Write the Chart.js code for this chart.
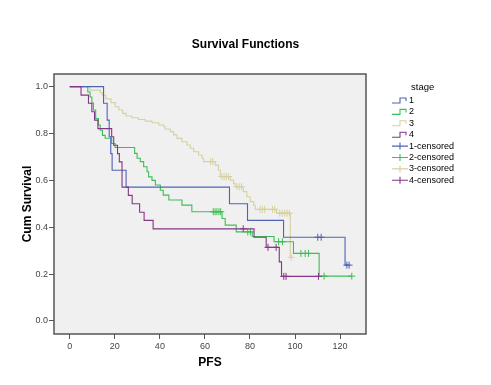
<!DOCTYPE html>
<html>
<head>
<meta charset="utf-8">
<script src="https://cdn.jsdelivr.net/npm/chart.js@4"></script>
<style>
  html, body { margin: 0; padding: 0; background: #fff; }
</style>
</head>
<body>
<canvas id="km" width="491" height="385"></canvas>
<script>
// Kaplan-Meier steps: time (PFS) and cumulative survival
const s1Time = [0, 15, 16.6, 17.5, 18.2, 18.8, 25, 70.9, 78.9, 94.9, 122.2, 124];
const s1Surv = [1, 0.929, 0.857, 0.786, 0.714, 0.643, 0.571, 0.5, 0.429, 0.357, 0.238, 0.238];
const s1Cens = [110.1, 111.6, 123, 124];

const s2Time = [0, 8, 9, 9.8, 10.5, 11.5, 12.7, 13.5, 14.5, 15.7, 18.6, 20.1, 28.8, 29.9, 31.3, 32.8, 34.3, 35, 36.5, 38,
  40.2, 41.5, 44, 49.8, 54.2, 67.6, 69, 73.9, 81, 90.7, 99.3, 110.7, 125.2];
const s2Surv = [1, 0.977, 0.956, 0.93, 0.9, 0.864, 0.836, 0.814, 0.792, 0.78, 0.757, 0.74, 0.715, 0.694, 0.68, 0.658, 0.637, 0.615, 0.6, 0.58,
  0.558, 0.537, 0.516, 0.494, 0.466, 0.437, 0.409, 0.38, 0.36, 0.338, 0.288, 0.191, 0.191];
const s2Cens = [63.7, 64.5, 65.3, 66.2, 67, 79, 80.2, 92.7, 94.4, 102.6, 104.5, 106, 112.9, 125.2];

const s3Time = [0, 9, 13.5, 14.4, 16, 18.3, 20.2, 21.8, 23.5, 25, 27.5, 30.5, 33.5, 36.5, 39.5, 41.7, 42.4, 44.6, 46.1, 47.6,
  49.8, 52, 53.5, 55, 57.2, 58.7, 59.4, 64.6, 66, 66.8, 71.2, 72.7, 73.4, 77, 78.6, 80.1, 81.6, 82.3, 91.8, 97.9, 98.3];
const s3Surv = [1, 0.985, 0.975, 0.963, 0.948, 0.932, 0.914, 0.9, 0.886, 0.875, 0.867, 0.86, 0.853, 0.846, 0.836, 0.829, 0.819, 0.808, 0.794, 0.779,
  0.765, 0.751, 0.737, 0.722, 0.708, 0.694, 0.68, 0.665, 0.644, 0.616, 0.601, 0.587, 0.573, 0.552, 0.53, 0.509, 0.494, 0.476, 0.46, 0.271, 0.271];
const s3Cens = [62.5, 63.5, 67.5, 68.5, 69.5, 70.5, 74.2, 75.2, 76.2, 84.5, 85.5, 86.5, 90, 91, 93.2, 94.3, 95.4, 96.5, 97.5, 98.3];

const s4Time = [0, 5, 8.3, 9.8, 11, 12.5, 18.6, 19.5, 21.2, 22, 23.2, 26, 27.7, 31, 33, 37, 81.8, 87.2, 93, 94, 110.4];
const s4Surv = [1, 0.964, 0.929, 0.893, 0.857, 0.821, 0.786, 0.75, 0.714, 0.679, 0.571, 0.536, 0.5, 0.464, 0.429, 0.393, 0.357, 0.314, 0.252, 0.19, 0.19];
const s4Cens = [77, 88, 91.6, 95, 96, 110.4];

const stageLabels = ["1", "2", "3", "4"];
const xTicks = [0, 20, 40, 60, 80, 100, 120];
const yTicks = [0, 0.2, 0.4, 0.6, 0.8, 1.0];

const colors = ["#4D64B4", "#3DBE55", "#D6D1A0", "#853586"];
const drawOrder = [1, 2, 3, 0]; // stage 4 on top
const FONT = "'Liberation Sans', Arial, sans-serif";

const curves = [
  [s1Time, s1Surv, s1Cens],
  [s2Time, s2Surv, s2Cens],
  [s3Time, s3Surv, s3Cens],
  [s4Time, s4Surv, s4Cens]
];

// survival value of a step curve at time t (censor marks sit on the curve)
function survAt(times, surv, t) {
  let v = surv[0];
  for (let i = 0; i < times.length; i++) {
    if (times[i] <= t) v = surv[i];
  }
  return v;
}

const datasets = [];
curves.forEach(([t, s, c], i) => {
  datasets.push({
    label: stageLabels[i],
    data: t.map((x, k) => ({ x: x, y: s[k] })),
    borderColor: colors[i],
    borderWidth: 1.1,
    pointRadius: 0,
    stepped: "before",
    fill: false,
    order: drawOrder[i]
  });
});
curves.forEach(([t, s, c], i) => {
  datasets.push({
    label: stageLabels[i] + "-censored",
    data: c.map(x => ({ x: x, y: survAt(t, s, x) })),
    showLine: false,
    pointStyle: "cross",
    pointRadius: 3.5,
    pointBorderWidth: 1,
    borderColor: colors[i],
    backgroundColor: colors[i],
    order: drawOrder[i]
  });
});

// grey plot background and frame
const framePlugin = {
  id: "frame",
  beforeDatasetsDraw(chart) {
    const { ctx, chartArea: a } = chart;
    ctx.save();
    ctx.fillStyle = "#F0F0F0";
    ctx.fillRect(a.left, a.top, a.right - a.left, a.bottom - a.top);
    ctx.restore();
  },
  afterDraw(chart) {
    const { ctx, chartArea: a } = chart;
    ctx.save();
    ctx.strokeStyle = "#555";
    ctx.lineWidth = 1.5;
    ctx.strokeRect(a.left, a.top, a.right - a.left, a.bottom - a.top);
    ctx.restore();
  }
};

// SPSS-style legend on the right
const legendPlugin = {
  id: "kmLegend",
  afterDraw(chart) {
    const ctx = chart.ctx;
    ctx.save();
    ctx.fillStyle = "#000";
    ctx.textBaseline = "middle";
    ctx.textAlign = "left";
    ctx.font = "9.5px " + FONT;
    ctx.fillText("stage", 411, 87);
    ctx.font = "9px " + FONT;
    const x0 = 392, step = 11.4;
    chart.data.datasets.forEach((ds, i) => {
      const y = 100.5 + i * step;
      ctx.strokeStyle = ds.borderColor;
      ctx.lineWidth = 1.1;
      ctx.beginPath();
      if (i < 4) {
        ctx.moveTo(x0, y + 2.5);
        ctx.lineTo(x0 + 8, y + 2.5);
        ctx.lineTo(x0 + 8, y - 2.5);
        ctx.lineTo(x0 + 14, y - 2.5);
        ctx.lineTo(x0 + 14, y + 0.5);
      } else {
        ctx.moveTo(x0, y);
        ctx.lineTo(x0 + 16, y);
        ctx.moveTo(x0 + 8, y - 3.5);
        ctx.lineTo(x0 + 8, y + 3.5);
      }
      ctx.stroke();
      ctx.fillText(ds.label, 409, y);
    });
    ctx.restore();
  }
};

new Chart(document.getElementById("km"), {
  type: "line",
  data: { datasets: datasets },
  options: {
    responsive: false,
    animation: false,
    devicePixelRatio: 1,
    layout: { padding: 0 },
    plugins: {
      legend: { display: false },
      tooltip: { enabled: false },
      title: {
        display: true,
        text: "Survival Functions",
        color: "#000",
        font: { family: FONT, size: 12, weight: "bold", lineHeight: 1.25 },
        padding: { top: 37, bottom: 22 }
      }
    },
    scales: {
      x: {
        type: "linear",
        min: -7,
        max: 131.5,
        afterFit(s) { s.height = 51; },
        afterBuildTicks(s) { s.ticks = xTicks.map(v => ({ value: v })); },
        grid: { drawOnChartArea: false, drawTicks: true, tickLength: 5, tickColor: "#555", lineWidth: 1 },
        border: { display: false },
        ticks: { color: "#444", font: { family: FONT, size: 9 }, padding: 2, maxRotation: 0 },
        title: {
          display: true, text: "PFS", color: "#000",
          font: { family: FONT, size: 12, weight: "bold", lineHeight: 1.25 },
          padding: { top: 0, bottom: 14.5 }
        }
      },
      y: {
        type: "linear",
        min: -0.056,
        max: 1.054,
        afterFit(s) { s.width = 54; },
        afterBuildTicks(s) { s.ticks = yTicks.map(v => ({ value: v })); },
        grid: { drawOnChartArea: false, drawTicks: true, tickLength: 5, tickColor: "#555", lineWidth: 1 },
        border: { display: false },
        ticks: { color: "#444", font: { family: FONT, size: 9 }, padding: 1, callback: v => v.toFixed(1) },
        title: {
          display: true, text: "Cum Survival", color: "#000",
          font: { family: FONT, size: 12, weight: "bold", lineHeight: 1.25 },
          padding: { top: 20.5, bottom: 0 }
        }
      },
      legendSpace: {
        type: "linear",
        position: "right",
        display: true,
        afterFit(s) { s.width = 125; },
        grid: { display: false },
        ticks: { display: false },
        border: { display: false }
      }
    }
  },
  plugins: [framePlugin, legendPlugin]
});
</script>
</body>
</html>
